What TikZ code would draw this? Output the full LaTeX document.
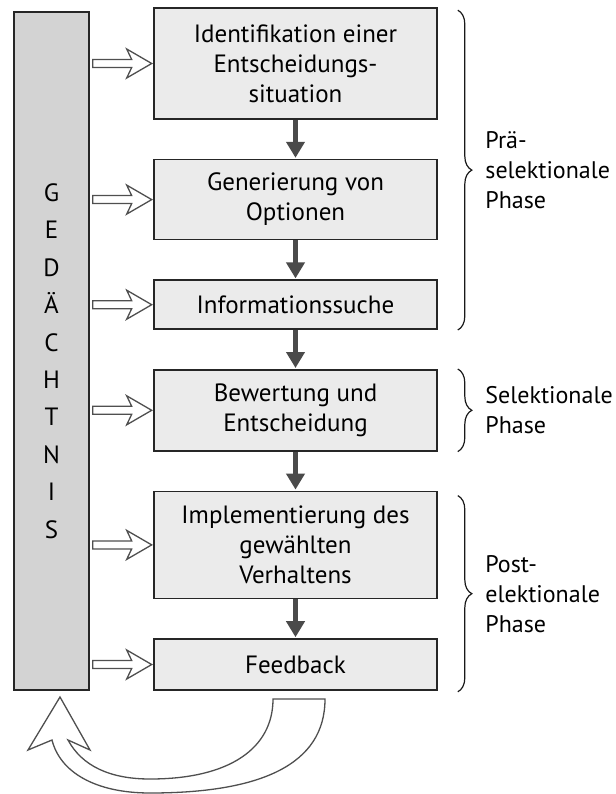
\documentclass[tikz,border=0pt]{standalone}
\usepackage{fontspec}
\setmainfont{PT Sans}
\usetikzlibrary{arrows.meta,positioning,calc,decorations.pathreplacing}

\definecolor{memgray}{HTML}{D3D3D3}
\definecolor{boxgray}{HTML}{EBEBEB}
\definecolor{flowgray}{HTML}{4A4A4A}
\definecolor{edgegray}{HTML}{4F4F4F}

\tikzset{
  stage/.style={draw=black!85,line width=1.6pt,fill=boxgray,minimum width=283pt,
    inner sep=0pt,align=center,font={\fontsize{25}{30}\selectfont}},
  membar/.style={draw=black!85,line width=1.6pt,fill=memgray,minimum width=75pt,
    minimum height=678pt,inner sep=0pt},
  flow/.style={draw=flowgray,line width=4.5pt,shorten >=1pt,
    -{Triangle[length=16pt,width=18pt]}},
  feed/.style={draw=edgegray,line width=1.3pt,fill=white,
    to path={($(\tikztostart)+(0,4)$) -- ($(\tikztotarget)+(-20,4)$)
      -- ($(\tikztotarget)+(-25,14.5)$) -- (\tikztotarget)
      -- ($(\tikztotarget)+(-25,-14.5)$) -- ($(\tikztotarget)+(-20,-4)$)
      -- ($(\tikztostart)+(0,-4)$) -- cycle}},
  phasebrace/.style={decorate,decoration={brace,amplitude=14pt},draw=black!90,line width=1.2pt},
  phaselabel/.style={anchor=west,xshift=27pt,align=left,inner sep=0pt,
    font={\fontsize{24}{30}\selectfont}},
}

\begin{document}
\begin{tikzpicture}[x=1pt,y=1pt,node distance=39pt]
  \useasboundingbox (0,0) rectangle (615,-794);

  % memory bar
  \node[membar] (mem) at (51.5,-351) {};
  \node[inner sep=0pt,align=center,font={\fontsize{25}{37.4}\selectfont}] (memtext)
    at ($(mem.center)+(0,-10)$) {G\\E\\D\\Ä\\C\\H\\T\\N\\I\\S};

  % stages
  \node[stage,minimum height=111pt] (b1) at (295.5,-63.5) {Identifikation einer\\Entscheidungs-\\situation};
  \node[stage,minimum height=80pt,below=of b1] (b2) {Generierung von\\Optionen};
  \node[stage,minimum height=49pt,below=of b2] (b3) {Informationssuche};
  \node[stage,minimum height=81pt,below=of b3] (b4) {Bewertung und\\Entscheidung};
  \node[stage,minimum height=107pt,below=of b4] (b5) {Implementierung des\\gewählten\\Verhaltens};
  \node[stage,minimum height=51pt,below=of b5] (b6) {Feedback};

  \foreach \a/\b in {b1/b2,b2/b3,b3/b4,b4/b5,b5/b6}
    \draw[flow] (\a.south) -- (\b.north);

  % memory to stages
  \foreach \b in {b1,b2,b3,b4,b5,b6} {
    \coordinate (m\b) at ($(mem.east |- \b.west)+(3,0)$);
    \coordinate (t\b) at ($(\b.west)+(-1.5,0)$);
    \draw[feed] (m\b) to (t\b);
  }

  % feedback back into memory
  \draw[draw=edgegray,line width=1.3pt,fill=white]
    (273,-699) -- (325,-699)
    .. controls (325,-765) and (260,-793) .. (150,-793)
    .. controls (95,-793) and (60,-772) .. (52,-740)
    -- (28,-750) -- (60,-697) -- (90,-750) -- (68,-740)
    .. controls (82,-766) and (110,-779) .. (150,-779)
    .. controls (230,-779) and (273,-748) .. (273,-699) -- cycle;

  % phases
  \draw[phasebrace] ($(b1.north east)+(20,-3)$) -- ($(b3.south east)+(20,0)$)
    node[midway,phaselabel] {Prä-\\selektionale\\Phase};
  \draw[phasebrace] ($(b4.north east)+(20,0)$) -- ($(b4.south east)+(20,0)$)
    node[midway,phaselabel] {Selektionale\\Phase};
  \draw[phasebrace] ($(b5.north east)+(20,-5)$) -- ($(b6.south east)+(20,-1)$)
    node[midway,phaselabel] {Post-\\elektionale\\Phase};
\end{tikzpicture}
\end{document}
